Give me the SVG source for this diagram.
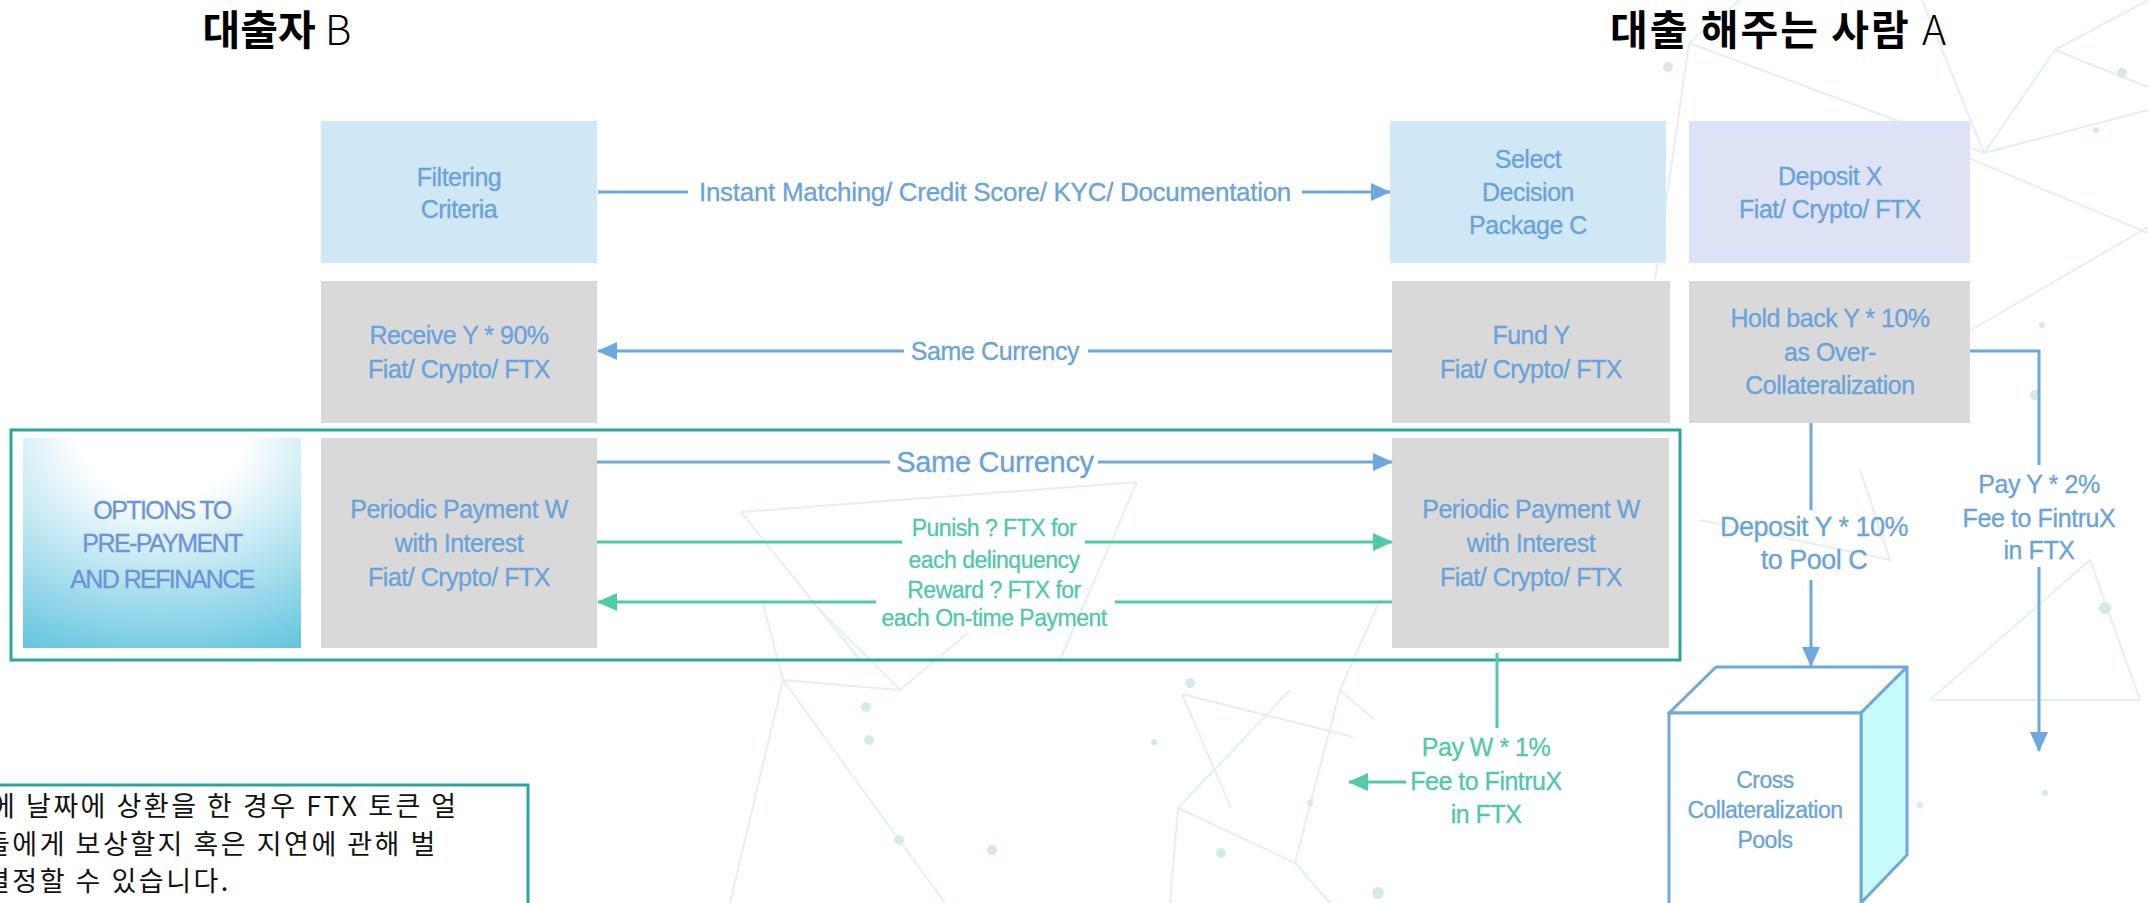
<svg xmlns="http://www.w3.org/2000/svg" width="2148" height="903" viewBox="0 0 2148 903">
<style>
.bx{font-family:"Liberation Sans",Arial,sans-serif;font-size:25px;fill:#6aa2da;text-anchor:middle;letter-spacing:-0.5px;stroke:#6aa2da;stroke-width:0.3}
.lb{font-family:"Liberation Sans",Arial,sans-serif;font-size:25px;fill:#6aa2da;text-anchor:middle;letter-spacing:-0.4px;stroke:#6aa2da;stroke-width:0.3}
.tl{font-family:"Liberation Sans",Arial,sans-serif;font-size:23px;fill:#4fc9a6;text-anchor:middle;letter-spacing:-0.5px;stroke:#4fc9a6;stroke-width:0.3}
.bl{fill:none;stroke:#6fa8dc;stroke-width:3}
.te{fill:none;stroke:#52c9a8;stroke-width:3}
.bg{stroke:#e3f0ef;stroke-width:2;fill:none}
.dot{fill:#d5e9e9}
.title{font-family:"Noto Sans CJK KR",sans-serif;font-size:41px;font-weight:700;fill:#000;text-anchor:middle}
.kr{font-family:"Noto Sans CJK KR",sans-serif;font-size:27px;font-weight:400;fill:#111;letter-spacing:2.5px}
</style>
<defs>
<marker id="ab" markerUnits="userSpaceOnUse" markerWidth="20" markerHeight="18" refX="19" refY="9" orient="auto"><path d="M0,0 L20,9 L0,18 z" fill="#6fa8dc"/></marker>
<marker id="at" markerUnits="userSpaceOnUse" markerWidth="20" markerHeight="18" refX="19" refY="9" orient="auto"><path d="M0,0 L20,9 L0,18 z" fill="#52c9a8"/></marker>
<radialGradient id="og" cx="50%" cy="0%" r="115%" fx="50%" fy="0%">
<stop offset="0" stop-color="#ffffff"/>
<stop offset="0.25" stop-color="#ffffff"/>
<stop offset="1" stop-color="#5cc2dc"/>
</radialGradient>
</defs>
<rect width="2148" height="903" fill="#ffffff"/>
<g id="background">
<path class="bg" d="M1689,43 L1984,153 M1922,0 L1984,153 M1984,153 L2055,50 M1984,153 L2148,110 M1966,157 L2148,233 M2148,227 L1966,333 M2055,50 L2148,87 M1689,43 L1655,280 M1689,43 L1740,0 M2055,50 L2148,0"/>
<path class="bg" d="M762,600 L783,680 L900,690 M783,680 L730,903 M783,680 L945,903 M810,600 L900,690 L968,633 M1182,694 L1231,808 M1178,808 L1295,863 L1340,690 L1375,720 M1182,694 L1353,737 M1178,808 L1290,690 M1178,808 L1170,903 M1295,863 L1330,903 M1340,690 L1380,600"/>
<path class="bg" d="M741,512 L1137,482 M741,512 L860,660 M1137,482 L1060,660 M1700,520 L1890,560 L1860,470 M1930,700 L2090,560 L2140,700 L1930,700"/>
<circle class="dot" cx="1668" cy="67" r="5"/><circle class="dot" cx="2122" cy="73" r="5"/><circle class="dot" cx="2096" cy="130" r="3"/>
<circle class="dot" cx="2042" cy="325" r="3"/><circle class="dot" cx="2035" cy="395" r="5"/><circle class="dot" cx="2105" cy="608" r="6"/>
<circle class="dot" cx="866" cy="707" r="5"/><circle class="dot" cx="869" cy="740" r="5"/><circle class="dot" cx="899" cy="840" r="5"/>
<circle class="dot" cx="992" cy="850" r="5"/><circle class="dot" cx="1190" cy="683" r="5"/><circle class="dot" cx="1154" cy="742" r="3"/>
<circle class="dot" cx="1221" cy="853" r="5"/><circle class="dot" cx="1378" cy="893" r="6"/><circle class="dot" cx="1310" cy="803" r="3"/>
<circle class="dot" cx="1920" cy="805" r="3"/><circle class="dot" cx="2045" cy="793" r="3"/>
</g>
<g id="titles">
<text class="title" x="277" y="45">대출자 <tspan font-weight="300">B</tspan></text>
<text class="title" x="1779" y="45" style="letter-spacing:2px">대출 해주는 사람 <tspan font-weight="300">A</tspan></text>
</g>
<g id="frame"><rect x="11" y="430" width="1669" height="230" fill="none" stroke="#2aa79b" stroke-width="3"/></g>
<g id="n-filtering"><rect x="321" y="121" width="276" height="142" fill="#d0e8f6"/>
<text class="bx" x="459" y="186">Filtering</text><text class="bx" x="459" y="218">Criteria</text></g>
<g id="n-select"><rect x="1390" y="121" width="276" height="142" fill="#d0e8f6"/>
<text class="bx" x="1528" y="168">Select</text><text class="bx" x="1528" y="201">Decision</text><text class="bx" x="1528" y="234">Package C</text></g>
<g id="n-deposit"><rect x="1689" y="121" width="281" height="142" fill="#dde2f5"/>
<text class="bx" x="1830" y="185">Deposit X</text><text class="bx" x="1830" y="218">Fiat/ Crypto/ FTX</text></g>
<g id="n-receive"><rect x="321" y="281" width="276" height="142" fill="#d9d9d9"/>
<text class="bx" x="459" y="344">Receive Y * 90%</text><text class="bx" x="459" y="378">Fiat/ Crypto/ FTX</text></g>
<g id="n-fund"><rect x="1392" y="281" width="278" height="142" fill="#d9d9d9"/>
<text class="bx" x="1531" y="344">Fund Y</text><text class="bx" x="1531" y="378">Fiat/ Crypto/ FTX</text></g>
<g id="n-holdback"><rect x="1689" y="281" width="281" height="142" fill="#d9d9d9"/>
<text class="bx" x="1830" y="327">Hold back Y * 10%</text><text class="bx" x="1830" y="361">as Over-</text><text class="bx" x="1830" y="394">Collateralization</text></g>
<g id="n-options"><rect x="23" y="438" width="278" height="210" fill="url(#og)"/>
<text class="bx" x="162" y="519" style="letter-spacing:-1.6px;fill:#6f92d8;stroke:#6f92d8">OPTIONS TO</text><text class="bx" x="162" y="552" style="letter-spacing:-1.6px;fill:#6f92d8;stroke:#6f92d8">PRE-PAYMENT</text><text class="bx" x="162" y="588" style="letter-spacing:-1.6px;fill:#6f92d8;stroke:#6f92d8">AND REFINANCE</text></g>
<g id="n-periodic-b"><rect x="321" y="438" width="276" height="210" fill="#d9d9d9"/>
<text class="bx" x="459" y="518">Periodic Payment W</text><text class="bx" x="459" y="552">with Interest</text><text class="bx" x="459" y="586">Fiat/ Crypto/ FTX</text></g>
<g id="n-periodic-a"><rect x="1392" y="438" width="277" height="210" fill="#d9d9d9"/>
<text class="bx" x="1531" y="518">Periodic Payment W</text><text class="bx" x="1531" y="552">with Interest</text><text class="bx" x="1531" y="586">Fiat/ Crypto/ FTX</text></g>
<g id="n-pool">
<polygon points="1669,713 1716,667 1907,667 1861,713" fill="#ffffff" stroke="#6fa8dc" stroke-width="3" stroke-linejoin="round"/>
<polygon points="1861,713 1907,667 1907,855 1861,903" fill="#c8fcfd" stroke="#6fa8dc" stroke-width="3" stroke-linejoin="round"/>
<rect x="1669" y="713" width="192" height="192" fill="#ffffff" stroke="#6fa8dc" stroke-width="3"/>
<text class="bx" x="1765" y="788" style="font-size:23px">Cross</text><text class="bx" x="1765" y="818" style="font-size:23px">Collateralization</text><text class="bx" x="1765" y="848" style="font-size:23px">Pools</text></g>
<g id="connectors">
<path class="bl" d="M598,192 H688 M1302,192 H1390" marker-end="url(#ab)"/>
<path class="bl" d="M1392,351 H1088 M904,351 H598" marker-end="url(#ab)"/>
<path class="bl" d="M597,462 H890 M1098,462 H1392" marker-end="url(#ab)"/>
<path class="te" d="M597,542 H902 M1085,542 H1392" marker-end="url(#at)"/>
<path class="te" d="M1392,602 H1115 M876,602 H598" marker-end="url(#at)"/>
<path class="bl" d="M1811,423 V510 M1811,580 V666" marker-end="url(#ab)"/>
<path class="bl" d="M1970,351 H2039 V465 M2039,567 V751" marker-end="url(#ab)"/>
<path class="te" d="M1497,653 V728"/>
<path class="te" d="M1406,782 H1349" marker-end="url(#at)"/>
</g>
<g id="labels">
<text class="lb" x="995" y="201" style="font-size:26px;letter-spacing:-0.3px">Instant Matching/ Credit Score/ KYC/ Documentation</text>
<text class="lb" x="995" y="360">Same Currency</text>
<text class="lb" x="995" y="472" style="font-size:29px;letter-spacing:-0.3px">Same Currency</text>
<text class="tl" x="994" y="536">Punish ? FTX for</text>
<text class="tl" x="994" y="568">each delinquency</text>
<text class="tl" x="994" y="598">Reward ? FTX for</text>
<text class="tl" x="994" y="626">each On-time Payment</text>
<text class="lb" x="1814" y="536" style="font-size:27px;letter-spacing:-0.5px">Deposit Y * 10%</text>
<text class="lb" x="1814" y="569" style="font-size:27px;letter-spacing:-0.5px">to Pool C</text>
<text class="lb" x="2039" y="493">Pay Y * 2%</text>
<text class="lb" x="2039" y="527">Fee to FintruX</text>
<text class="lb" x="2039" y="559">in FTX</text>
<text class="tl" x="1486" y="756" style="font-size:25px">Pay W * 1%</text>
<text class="tl" x="1486" y="790" style="font-size:25px">Fee to FintruX</text>
<text class="tl" x="1486" y="823" style="font-size:25px">in FTX</text>
</g>
<g id="note">
<rect x="-5" y="785" width="533" height="130" fill="#ffffff" stroke="#2aa79b" stroke-width="3"/>
<text class="kr" x="-10" y="816">에 날짜에 상환을 한 경우 FTX 토큰 얼</text>
<text class="kr" x="-15" y="854">들에게 보상할지 혹은 지연에 관해 벌</text>
<text class="kr" x="-15" y="891">결정할 수 있습니다.</text>
</g>
</svg>
